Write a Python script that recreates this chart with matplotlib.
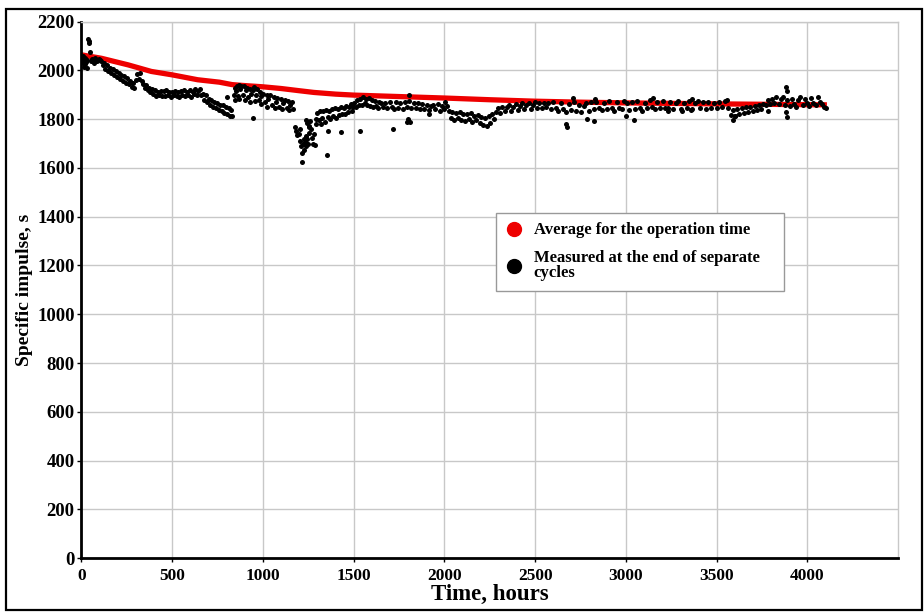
import matplotlib
matplotlib.use("Agg")
import matplotlib.pyplot as plt
from matplotlib.patches import Rectangle
from matplotlib.lines import Line2D

# =========================================================
# Data
# =========================================================

# averaged specific impulse over operating time (red curve)
avg_hours = [0, 110, 257, 385, 500, 640, 760, 830, 900, 1000, 1100, 1200,
             1280, 1400, 1500, 1750, 2000, 2250, 2500, 2750, 3000, 3250,
             3500, 3800, 4108]
avg_isp = [2064, 2050, 2023, 1996, 1982, 1962, 1952, 1942, 1938, 1933, 1926,
           1917, 1910, 1903, 1899, 1893, 1887, 1880, 1874, 1870, 1867, 1865,
           1863, 1861, 1859]

# measured at the end of separate cycles (black dots), by phase
start_hours = [3, 6, 9, 12, 15, 18, 22, 25, 28, 32, 36, 40, 44, 46, 52, 58,
               64, 70, 76, 82, 88, 94, 100]
start_isp = [2048, 2030, 2058, 2015, 2040, 2025, 2052, 2035, 2010, 2044, 2130,
             2122, 2112, 2077, 2038, 2046, 2040, 2030, 2052, 2045, 2038, 2048,
             2042]

decay_hours = [108, 116, 124, 132, 140, 148, 156, 164, 172, 180, 188, 196,
               204, 212, 220, 228, 236, 244, 252, 260, 268, 276, 284, 292,
               300, 308, 316, 324, 332, 340, 348, 356, 364, 372, 380, 388,
               396, 404, 412, 420, 428, 436, 444]
decay_isp = [2040, 2022, 2032, 2008, 2024, 1998, 2012, 1990, 2005, 1980, 1998,
             1972, 1990, 1965, 1982, 1958, 1976, 1950, 1968, 1944, 1955, 1932,
             1948, 1928, 1962, 1985, 1966, 1990, 1956, 1945, 1928, 1940, 1918,
             1930, 1910, 1922, 1903, 1918, 1896, 1912, 1900, 1916, 1896]

plateau_hours = [452, 460, 468, 476, 484, 492, 500, 508, 516, 524, 532, 540,
                 548, 556, 564, 572, 580, 588, 596, 604, 612, 620, 628, 636,
                 644, 652, 660]
plateau_isp = [1914, 1896, 1918, 1898, 1910, 1892, 1912, 1900, 1916, 1894, 1910,
               1890, 1915, 1898, 1920, 1894, 1912, 1900, 1918, 1893, 1912, 1902,
               1922, 1898, 1915, 1926, 1900]

drop_hours = [668, 676, 684, 692, 700, 708, 716, 724, 732, 740, 748, 756, 764,
              772, 780, 788, 796, 804, 804, 812, 820, 826, 832]
drop_isp = [1905, 1880, 1898, 1872, 1885, 1860, 1880, 1852, 1872, 1845, 1865,
            1838, 1858, 1832, 1860, 1825, 1850, 1820, 1891, 1845, 1815, 1838,
            1812]

recover_hours = [838, 844, 846, 850, 856, 862, 868, 870, 874, 880, 888, 896,
                 900, 904, 912, 920, 928, 930, 936, 944, 947, 952, 958, 960,
                 968, 976, 984, 990, 992, 1000, 1010, 1020, 1025, 1030, 1040,
                 1050, 1060, 1065, 1070, 1080, 1090, 1100, 1105, 1110, 1120,
                 1130, 1140, 1145, 1150, 1160, 1168]
recover_isp = [1900, 1930, 1880, 1915, 1938, 1895, 1940, 1885, 1925, 1935, 1898,
               1938, 1878, 1920, 1930, 1890, 1925, 1870, 1905, 1920, 1807, 1932,
               1875, 1898, 1922, 1880, 1912, 1862, 1895, 1905, 1870, 1900, 1850,
               1885, 1898, 1860, 1890, 1845, 1872, 1888, 1852, 1882, 1840, 1865,
               1880, 1848, 1875, 1838, 1860, 1870, 1842]

dip_hours = [1175, 1182, 1190, 1197, 1204, 1206, 1210, 1213, 1216, 1220, 1224,
             1228, 1232, 1236, 1240, 1243, 1248, 1252, 1256, 1260, 1265, 1270,
             1275, 1280, 1285, 1290, 1295, 1235, 1245, 1255]
dip_isp = [1768, 1750, 1735, 1741, 1710, 1760, 1690, 1623, 1660, 1700, 1675,
           1720, 1705, 1690, 1730, 1720, 1700, 1745, 1772, 1793, 1760, 1723,
           1700, 1740, 1696, 1780, 1800, 1795, 1785, 1770]

climb_hours = [1300, 1308, 1316, 1320, 1324, 1332, 1340, 1348, 1352, 1356,
               1361, 1364, 1372, 1380, 1388, 1396, 1404, 1412, 1420, 1428,
               1431, 1436, 1444, 1452, 1460, 1468, 1476, 1484, 1490]
climb_isp = [1825, 1795, 1835, 1780, 1805, 1832, 1790, 1838, 1655, 1808, 1751,
             1835, 1800, 1842, 1812, 1848, 1805, 1840, 1818, 1852, 1746, 1822,
             1848, 1820, 1855, 1830, 1850, 1862, 1835]

hump_hours = [1496, 1504, 1512, 1520, 1528, 1536, 1536, 1544, 1552, 1560, 1568,
              1576, 1584, 1592, 1600, 1608, 1616, 1624, 1632, 1640]
hump_isp = [1850, 1868, 1852, 1878, 1858, 1885, 1751, 1860, 1890, 1865, 1882,
            1858, 1886, 1855, 1878, 1850, 1875, 1856, 1848, 1870]

flat_hours = [1650, 1662, 1674, 1686, 1698, 1710, 1715, 1722, 1734, 1746,
              1758, 1770, 1782, 1794, 1795, 1798, 1806, 1806, 1812, 1818, 1830,
              1842, 1854, 1866, 1878, 1890, 1902, 1914, 1914, 1926]
flat_isp = [1865, 1850, 1868, 1845, 1870, 1852, 1761, 1842, 1870, 1848, 1868,
            1842, 1872, 1850, 1790, 1803, 1875, 1900, 1787, 1845, 1866, 1848,
            1868, 1842, 1862, 1840, 1860, 1838, 1822, 1855]

sag_hours = [1938, 1950, 1962, 1974, 1986, 1998, 2006, 2014, 2024, 2034, 2044,
             2054, 2064, 2074, 2084, 2094, 2104, 2114, 2124, 2134, 2144, 2154,
             2164, 2174, 2184, 2194, 2204, 2214, 2224, 2234, 2244, 2254, 2264,
             2274]
sag_isp = [1858, 1840, 1862, 1835, 1855, 1842, 1872, 1855, 1835, 1805, 1830,
           1798, 1825, 1805, 1828, 1795, 1822, 1792, 1820, 1800, 1825, 1788,
           1815, 1795, 1818, 1785, 1810, 1775, 1805, 1772, 1812, 1785, 1820,
           1800]

rise_hours = [2284, 2296, 2308, 2320, 2332, 2344, 2356, 2368, 2380, 2392, 2404,
              2416, 2428, 2440, 2452, 2464, 2476, 2488, 2500, 2512, 2524, 2536,
              2548, 2560]
rise_isp = [1828, 1848, 1825, 1852, 1832, 1850, 1858, 1835, 1852, 1862, 1838,
            1855, 1865, 1840, 1858, 1868, 1842, 1860, 1870, 1845, 1865, 1848,
            1866, 1850]

steady_hours = [2572, 2586, 2600, 2614, 2628, 2642, 2656, 2670, 2671, 2676,
                2684, 2698, 2708, 2712, 2726, 2740, 2754, 2768, 2782, 2788,
                2796, 2810, 2824, 2827, 2832, 2838, 2852, 2866, 2880, 2894,
                2908, 2922, 2936, 2950, 2964, 2978, 2992, 3000, 3006, 3020,
                3034, 3046, 3048, 3062, 3076, 3090, 3104, 3118, 3132, 3146,
                3148, 3160, 3174, 3188, 3202, 3216]
steady_isp = [1865, 1840, 1872, 1845, 1835, 1868, 1842, 1830, 1781, 1768, 1862,
              1838, 1889, 1870, 1832, 1860, 1828, 1855, 1866, 1800, 1835, 1870,
              1842, 1791, 1884, 1872, 1848, 1836, 1868, 1842, 1875, 1845, 1835,
              1870, 1848, 1840, 1874, 1812, 1865, 1838, 1870, 1797, 1842, 1876,
              1848, 1835, 1868, 1845, 1878, 1850, 1887, 1840, 1870, 1848, 1875,
              1845]

late_hours = [3230, 3233, 3245, 3260, 3275, 3290, 3305, 3307, 3320, 3335, 3350,
              3358, 3362, 3365, 3380, 3395, 3410, 3425, 3440, 3455, 3470, 3485,
              3500, 3515, 3530, 3545, 3558]
late_isp = [1848, 1833, 1870, 1840, 1865, 1875, 1842, 1833, 1868, 1845, 1874,
            1838, 1884, 1840, 1866, 1876, 1845, 1870, 1842, 1872, 1848, 1868,
            1845, 1872, 1850, 1875, 1878]

slump_hours = [3565, 3578, 3590, 3593, 3600, 3602, 3614, 3626, 3638, 3650,
               3662, 3674, 3686, 3698, 3710, 3722, 3734, 3746, 3758]
slump_isp = [1845, 1818, 1838, 1795, 1815, 1812, 1842, 1822, 1848, 1825, 1850,
             1830, 1852, 1832, 1856, 1838, 1860, 1842, 1862]

end_hours = [3770, 3782, 3785, 3794, 3806, 3818, 3830, 3842, 3854, 3866, 3878,
             3884, 3884, 3886, 3886, 3890, 3902, 3914, 3926, 3938, 3950, 3962,
             3974, 3986, 3998, 4010, 4022, 4034, 4046, 4058, 4070, 4082, 4094,
             4105]
end_isp = [1858, 1880, 1833, 1862, 1885, 1866, 1890, 1862, 1882, 1892, 1860,
           1932, 1829, 1914, 1811, 1880, 1856, 1885, 1862, 1852, 1880, 1890,
           1860, 1884, 1865, 1855, 1888, 1866, 1860, 1892, 1870, 1862, 1852,
           1846]

meas_hours = (start_hours + decay_hours + plateau_hours + drop_hours
              + recover_hours + dip_hours + climb_hours + hump_hours
              + flat_hours + sag_hours + rise_hours + steady_hours
              + late_hours + slump_hours + end_hours)
meas_isp = (start_isp + decay_isp + plateau_isp + drop_isp + recover_isp
            + dip_isp + climb_isp + hump_isp + flat_isp + sag_isp + rise_isp
            + steady_isp + late_isp + slump_isp + end_isp)

x_ticks = [0, 500, 1000, 1500, 2000, 2500, 3000, 3500, 4000]
y_ticks = [0, 200, 400, 600, 800, 1000, 1200, 1400, 1600, 1800, 2000, 2200]

# =========================================================
# Figure
# =========================================================

plt.rcParams["font.family"] = ["Liberation Serif", "DejaVu Serif"]
plt.rcParams["font.weight"] = "bold"

fig = plt.figure(figsize=(9.24, 6.12), dpi=100)
ax = fig.add_axes([0.0882, 0.0882, 0.8837, 0.8763])

ax.plot(avg_hours, avg_isp, color="#ee0000", linewidth=3.8,
        solid_capstyle="butt", zorder=2)
ax.scatter(meas_hours, meas_isp, s=13, color="black", linewidths=0, zorder=3)

ax.set_xlim(0, 4500)
ax.set_ylim(0, 2200)
ax.set_xticks(x_ticks)
ax.set_yticks(y_ticks)
ax.grid(True, color="#c8c8c8", linewidth=1.0)
ax.set_axisbelow(True)

for side in ["left", "bottom"]:
    ax.spines[side].set_linewidth(2)
    ax.spines[side].set_color("black")
for side in ["top", "right"]:
    ax.spines[side].set_linewidth(1)
    ax.spines[side].set_color("#c8c8c8")

ax.tick_params(axis="both", length=3, width=1, direction="out")
ax.tick_params(axis="y", labelsize=13.5, pad=2)
ax.tick_params(axis="x", labelsize=12.5, pad=4)
for lbl in ax.get_xticklabels() + ax.get_yticklabels():
    lbl.set_fontweight("bold")

ax.set_xlabel("Time, hours", fontsize=16.5, fontweight="bold", labelpad=0)
ax.set_ylabel("Specific impulse, s", fontsize=14, fontweight="bold",
              labelpad=3)

handles = [
    Line2D([], [], linestyle="none", marker="o", markersize=10,
           color="#ee0000"),
    Line2D([], [], linestyle="none", marker="o", markersize=10,
           color="black"),
]
labels = [
    "Average for the operation time      ",
    "Measured at the end of separate\ncycles",
]
leg = ax.legend(handles, labels, loc="upper left",
                bbox_to_anchor=(0.508, 0.643), borderaxespad=0,
                fancybox=False, framealpha=1, edgecolor="#999999",
                fontsize=12, handlelength=1.0, handletextpad=0.7,
                borderpad=0.55, labelspacing=0.7)
for txt in leg.get_texts():
    txt.set_fontweight("bold")
    txt.set_linespacing(0.95)

# outer frame around the whole picture
fig.patches.append(Rectangle((0.006, 0.004), 0.992, 0.982,
                             transform=fig.transFigure, fill=False,
                             edgecolor="black", linewidth=1.6))

fig.savefig("out.png", dpi=100)
